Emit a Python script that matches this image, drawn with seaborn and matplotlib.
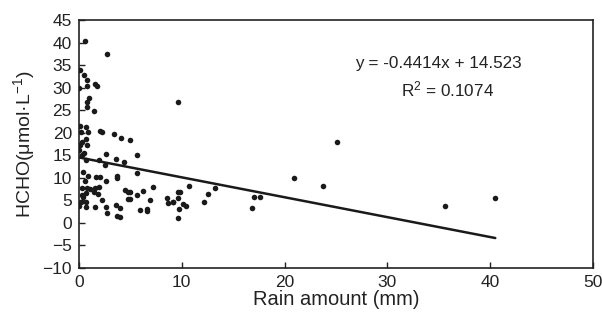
import numpy as np
import pandas as pd
import matplotlib
matplotlib.use("Agg")
import matplotlib.pyplot as plt
import seaborn as sns

# values
rain = [0.55, 2.7, 0.1, 0.5, 0.8, 0.0, 0.75, 1.6, 1.75, 0.95, 0.75, 0.75, 1.5, 9.6,
        0.15, 0.65, 0.2, 0.9, 2.1, 2.25, 3.4, 4.1, 4.95, 0.65, 0.3, 0.15, 0.75, 0.0,
        0.5, 2.6, 0.65, 1.95, 3.65, 4.4, 5.65, 0.3, 0.4, 0.9, 1.7, 2.05, 3.7, 3.7,
        2.6, 0.6, 5.65, 2.5, 0.3, 0.8, 1.1, 1.6, 2.0, 1.45, 1.9, 0.65, 0.3, 0.4,
        2.25, 0.2, 0.65, 0.0, 0.65, 1.6, 2.6, 2.75, 3.65, 4.0, 3.7, 4.0, 4.5, 4.8,
        5.0, 4.8, 5.0, 5.65, 6.25, 6.9, 7.2, 5.9, 6.6, 6.6, 8.55, 8.7, 9.15, 9.6,
        9.8, 9.6, 9.2, 10.1, 10.45, 9.7, 9.6, 10.7, 12.2, 12.55, 13.2, 17.0, 17.6,
        16.8, 20.9, 23.7, 25.1, 35.6, 40.5]
hcho = [40.4, 37.5, 33.9, 32.7, 31.7, 29.9, 30.3, 30.8, 30.3, 27.6, 26.9, 25.7, 24.8, 26.9,
        21.4, 21.2, 20.1, 20.1, 20.4, 20.1, 19.7, 18.9, 18.4, 18.6, 18.0, 17.3, 17.3, 16.2,
        15.5, 15.3, 13.9, 14.0, 14.2, 13.5, 15.1, 15.1, 11.2, 10.4, 10.2, 10.1, 10.5, 9.9,
        9.2, 9.2, 11.0, 12.9, 7.7, 7.7, 7.5, 7.7, 8.0, 6.9, 6.4, 6.6, 6.2, 5.8,
        5.1, 4.7, 4.6, 3.8, 3.5, 3.6, 3.6, 2.1, 3.9, 3.2, 1.6, 1.2, 7.3, 6.9,
        6.9, 5.3, 5.3, 6.2, 7.1, 5.1, 8.0, 2.9, 3.1, 2.6, 5.5, 4.5, 4.6, 6.9,
        6.9, 5.5, 4.7, 4.2, 3.8, 3.1, 1.0, 8.2, 4.7, 6.4, 7.7, 5.7, 5.7,
        3.4, 10.0, 8.1, 17.9, 3.8, 5.5]

slope = -0.4414
intercept = 14.523
r2 = 0.1074

df = pd.DataFrame({"rain": rain, "hcho": hcho})

sns.set_style("white")
plt.rcParams["font.family"] = ["Liberation Sans", "DejaVu Sans"]
plt.rcParams["mathtext.fontset"] = "custom"
plt.rcParams["mathtext.rm"] = "Liberation Sans"
plt.rcParams["mathtext.it"] = "Liberation Sans:italic"

fig = plt.figure(figsize=(6.02, 3.2), dpi=100)
ax = fig.add_axes([0.131, 0.1625, 0.854, 0.775])

sns.scatterplot(data=df, x="rain", y="hcho", ax=ax, color="#1a1a1a",
                s=16, linewidth=0, zorder=3)

xs = np.array([0, df["rain"].max()])
sns.lineplot(x=xs, y=slope * xs + intercept, ax=ax, color="#1a1a1a",
             linewidth=1.8, zorder=2)

ax.set_xlim(0, 50)
ax.set_ylim(-10, 45)
ax.set_xticks(range(0, 51, 10))
ax.set_yticks(range(-10, 46, 5))
ax.tick_params(bottom=True, left=True, direction="in", length=4, width=1,
               labelsize=12.5, colors="#222222", pad=5)
for sp in ax.spines.values():
    sp.set_color("#222222")
    sp.set_linewidth(1.2)

ax.set_xlabel("Rain amount (mm)", fontsize=14.5, labelpad=0, color="#222222")
ax.set_ylabel("HCHO(μmol·L$^{-1}$)", fontsize=14, labelpad=4, color="#222222")

ax.text(0.70, 0.825, f"y = {slope}x + {intercept}", transform=ax.transAxes,
        ha="center", va="center", fontsize=12.3, color="#222222")
ax.text(0.717, 0.718, f"R$^2$ = {r2}", transform=ax.transAxes,
        ha="center", va="center", fontsize=12.3, color="#222222")

fig.savefig("out.png", dpi=100)
